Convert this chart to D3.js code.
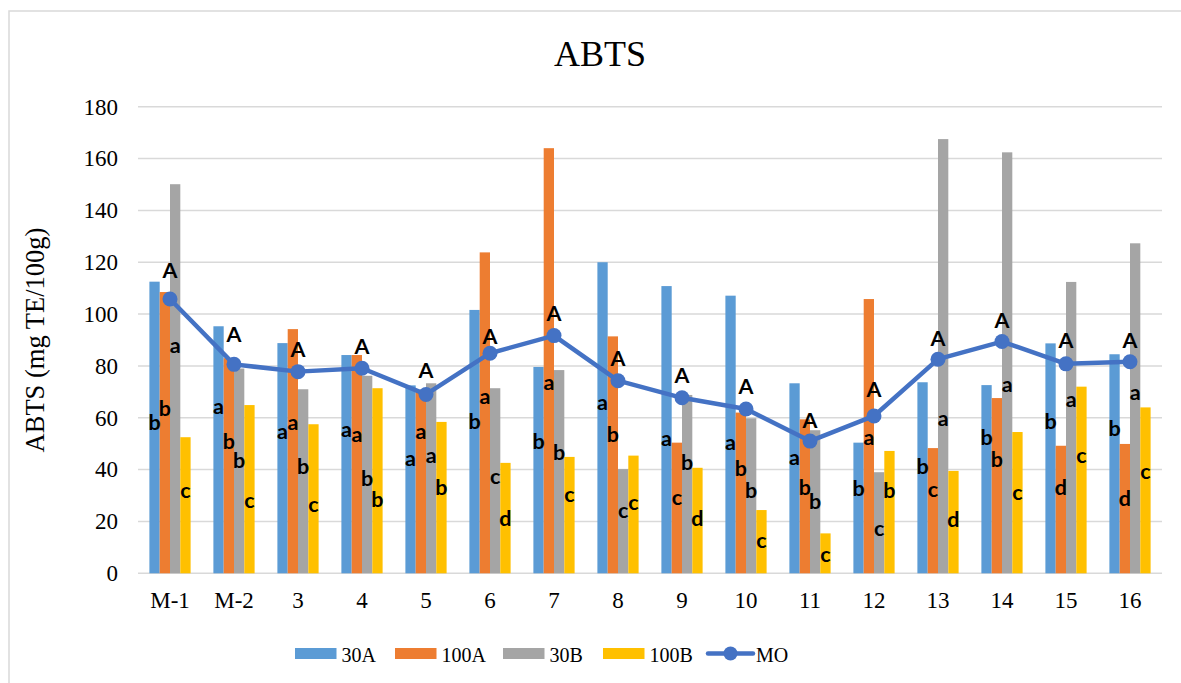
<!DOCTYPE html>
<html><head><meta charset="utf-8">
<script src="https://cdn.jsdelivr.net/npm/d3@7"></script>
<style>body{margin:0;background:#fff}svg{display:block}</style>
</head><body>
<svg id="c" width="1181" height="683"></svg>
<script>
const categories = ["M-1","M-2","3","4","5","6","7","8","9","10","11","12","13","14","15","16"];
const seriesNames = ["30A","100A","30B","100B"];
const s30A  = [112.5,95.3,88.8,84.2,72.5,101.6,79.6,120.0,110.8,107.1,73.3,50.4,73.7,72.6,88.7,84.5];
const s100A = [108.5,83.0,94.2,84.2,70.0,123.8,164.0,91.4,50.4,62.0,59.4,105.8,48.3,67.6,49.2,49.9];
const s30B  = [150.1,79.0,71.0,76.2,73.3,71.4,78.4,40.2,68.8,59.8,55.2,39.0,167.5,162.4,112.4,127.3];
const s100B = [52.5,64.9,57.5,71.4,58.4,42.6,44.9,45.4,40.7,24.4,15.4,47.2,39.5,54.5,72.0,64.0];
const MO    = [105.8,80.6,77.8,79.1,69.0,84.9,91.7,74.3,67.7,63.4,51.0,60.7,82.6,89.4,80.8,81.6];
// significance letters per series
const let30A  = ["b","a","a","a","a","b","b","a","a","a","a","b","b","b","b","b"];
const let100A = ["b","b","a","a","a","a","a","b","c","b","b","a","c","b","d","d"];
const let30B  = ["a","b","b","b","a","c","b","c","b","b","b","c","a","a","a","a"];
const let100B = ["c","c","c","b","b","d","c","c","d","c","c","b","d","c","c","c"];
const letMO   = ["A","A","A","A","A","A","A","A","A","A","A","A","A","A","A","A"];
// heights (in data units) at which the letters sit
const at30A  = [58,64.3,54.9,55.3,44.4,58.5,51,65.8,52.1,50.5,44.7,32.8,41.1,52.3,58.5,55.9];
const at100A = [63.4,50.8,58.3,53.4,54.9,68.4,73.7,53.4,29.2,40.5,33.2,52.5,32.4,44.1,33,28.9];
const at30B  = [88,43.7,41.4,36.4,45.4,37.5,46.7,24.2,42.8,32.1,27.6,17.4,59.8,73,67.2,69.8];
const at100B = [31.9,28,26.7,28.3,33,21.2,30.6,27.2,21.2,12.5,7.4,31.9,20.9,31.3,45.4,39.2];
const atMO   = [117,92,86.2,87.4,78.4,91.3,100.3,83,76.5,72,59.1,71,90.7,97.7,90,90];
const yTicks = [0,20,40,60,80,100,120,140,160,180];

const colors = ["#5B9BD5","#ED7D31","#A5A5A5","#FFC000"];
const lineColor = "#4472C4";
const series = [s30A,s100A,s30B,s100B];
const letters = [let30A,let100A,let30B,let100B];
const letterAt = [at30A,at100A,at30B,at100B];

const svg = d3.select("#c");
const L=138, R=1162, T=106.7, B=573.3;

svg.append("rect").attr("x",9).attr("y",11).attr("width",1190).attr("height",700)
  .attr("fill","#fff").attr("stroke","#D9D9D9").attr("stroke-width",1.5);

const x = d3.scaleBand().domain(categories).range([L,R]).padding(0);
const y = d3.scaleLinear().domain([0,180]).range([B,T]);
const groupW = x.bandwidth()*0.644;
const xi = d3.scaleBand().domain(d3.range(4)).range([-groupW/2, groupW/2]).padding(0);

// gridlines
svg.append("g").selectAll("line").data(yTicks).join("line")
  .attr("x1",L).attr("x2",R).attr("y1",d=>y(d)).attr("y2",d=>y(d))
  .attr("stroke","#D9D9D9").attr("stroke-width",1.5);

// y axis
const yAxis = svg.append("g").attr("transform",`translate(${L-20},0)`)
  .call(d3.axisLeft(y).tickValues(yTicks).tickSize(0).tickPadding(0));
yAxis.select(".domain").remove();
yAxis.selectAll("text").attr("font-family","Liberation Serif").attr("font-size",23).attr("fill","#000");

// x axis
const xAxis = svg.append("g").attr("transform",`translate(0,${B})`)
  .call(d3.axisBottom(x).tickSize(0).tickPadding(18));
xAxis.select(".domain").remove();
xAxis.selectAll("text").attr("font-family","Liberation Serif").attr("font-size",23).attr("fill","#000");

// bars
series.forEach((s,si)=>{
  svg.append("g").selectAll("rect").data(s).join("rect")
    .attr("x",(d,i)=>x(categories[i])+x.bandwidth()/2+xi(si))
    .attr("width",xi.bandwidth())
    .attr("y",d=>y(d)).attr("height",d=>B-y(d))
    .attr("fill",colors[si]);
});

// line
const cx = i => x(categories[i])+x.bandwidth()/2;
svg.append("path").datum(MO)
  .attr("d",d3.line().x((d,i)=>cx(i)).y(d=>y(d)))
  .attr("fill","none").attr("stroke",lineColor).attr("stroke-width",4.5).attr("stroke-linejoin","round");
svg.append("g").selectAll("circle").data(MO).join("circle")
  .attr("cx",(d,i)=>cx(i)).attr("cy",d=>y(d)).attr("r",7.5).attr("fill",lineColor);

// letters on bars
const lf = "Lato, 'Open Sans', sans-serif";
letters.forEach((ls,si)=>{
  svg.append("g").selectAll("text").data(ls).join("text")
    .attr("x",(d,i)=>x(categories[i])+x.bandwidth()/2+xi(si)+xi.bandwidth()/2)
    .attr("y",(d,i)=>y(letterAt[si][i]))
    .attr("dy","0.35em").attr("text-anchor","middle")
    .attr("font-family",lf).attr("font-weight","bold").attr("font-size",21.5).attr("fill","#000")
    .text(d=>d);
});
svg.append("g").selectAll("text").data(letMO).join("text")
  .attr("x",(d,i)=>cx(i)).attr("y",(d,i)=>y(atMO[i]))
  .attr("dy","0.35em").attr("text-anchor","middle")
  .attr("font-family",lf).attr("font-weight","bold").attr("font-size",21.5).attr("fill","#000")
  .text(d=>d);

// title
svg.append("text").attr("x",600).attr("y",66).attr("text-anchor","middle")
  .attr("font-family","Liberation Serif").attr("font-size",36).text("ABTS");

// y label
svg.append("text").attr("transform",`translate(44,${(T+B)/2}) rotate(-90)`)
  .attr("text-anchor","middle").attr("font-family","Liberation Serif").attr("font-size",26.5)
  .text("ABTS (mg TE/100g)");

// legend
const legendItems = seriesNames.map((n,i)=>({name:n,color:colors[i],type:"bar"})).concat([{name:"MO",color:lineColor,type:"line"}]);
const legX = [295,395,503,603,708];
const lg = svg.append("g");
legendItems.forEach((it,i)=>{
  const g = lg.append("g").attr("transform",`translate(${legX[i]},653.5)`);
  if(it.type==="bar"){
    g.append("rect").attr("x",0).attr("y",-5.5).attr("width",41.5).attr("height",11).attr("fill",it.color);
  } else {
    g.append("line").attr("x1",0).attr("x2",45).attr("stroke",it.color).attr("stroke-width",4.5).attr("stroke-linecap","round");
    g.append("circle").attr("cx",22.5).attr("r",7).attr("fill",it.color);
  }
  g.append("text").attr("x",it.type==="bar"?46.5:48).attr("y",8)
    .attr("font-family","Liberation Serif").attr("font-size",20).text(it.name);
});
</script>
</body></html>
